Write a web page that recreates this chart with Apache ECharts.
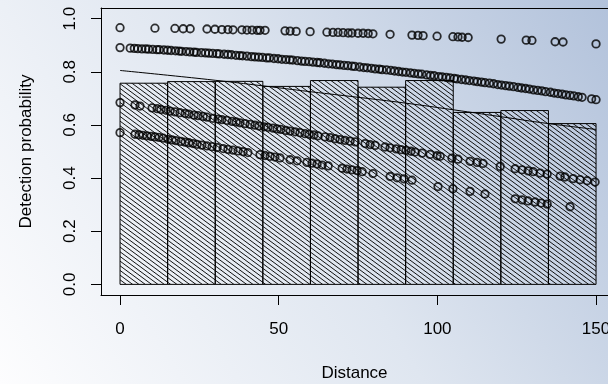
<!DOCTYPE html>
<html>
<head>
<meta charset="utf-8">
<script src="https://cdn.jsdelivr.net/npm/echarts@6/dist/echarts.min.js"></script>
<style>
    html, body {margin: 0; padding: 0;}
    #div_detect {width: 608px; height: 384px;}
</style>
</head>
<body>
<div id="div_detect"></div>
<script>
//直方图分组
var binStart = [0, 15, 30, 45, 60, 75, 90, 105, 120, 135];
var binEnd = [15, 30, 45, 60, 75, 90, 105, 120, 135, 150];
var binHeight = [0.757, 0.763, 0.764, 0.745, 0.767, 0.742, 0.767, 0.647, 0.654, 0.605];

//拟合的检测函数
var fitDistance = [0, 15, 30, 45, 60, 75, 90, 105, 120, 135, 150];
var fitProb = [0.805, 0.787, 0.768, 0.747, 0.725, 0.704, 0.682, 0.657, 0.631, 0.605, 0.583];

//每个观测的检测概率, 四组
var distA = [0, 11.0, 17.3, 19.9, 22.1, 27.4, 29.9, 32.1, 34.0, 35.6, 38.4, 40.0, 41.6, 43.2, 44.1, 45.7,
    52.0, 53.6, 55.5, 59.9, 65.2, 67.1, 68.7, 70.3, 71.9, 73.1, 75.0, 76.6, 78.2, 79.7, 85.1, 92.0,
    93.9, 95.5, 99.9, 104.9, 106.5, 107.8, 109.7, 120.1, 128.0, 129.8, 137.1, 139.6, 150];
var probA = [0.966, 0.964, 0.963, 0.962, 0.962, 0.961, 0.960, 0.959, 0.959, 0.958, 0.958, 0.957, 0.957, 0.956, 0.956, 0.956,
    0.954, 0.953, 0.952, 0.951, 0.949, 0.948, 0.948, 0.947, 0.946, 0.946, 0.945, 0.945, 0.944, 0.943, 0.941, 0.938,
    0.937, 0.936, 0.934, 0.932, 0.931, 0.930, 0.929, 0.923, 0.919, 0.918, 0.913, 0.912, 0.905];

var distB = [0, 3.2, 4.5, 5.6, 6.9, 8.1, 9.0, 10.3, 11.6, 12.4, 13.8, 15.0, 16.1, 17.5, 18.6, 19.4, 20.8, 22.0, 23.3, 24.1,
    25.6, 26.9, 28.0, 29.2, 30.5, 31.3, 32.8, 34.0, 35.1, 36.5, 37.7, 38.6, 40.0, 41.4, 42.5, 43.7, 44.9, 46.2, 47.1, 48.5,
    49.8, 51.0, 52.3, 53.5, 54.4, 55.9, 57.2, 58.3, 59.6, 60.8, 62.1, 63.0, 64.4, 65.7, 66.9, 68.2, 69.3, 70.6, 71.8, 73.1,
    74.0, 75.5, 76.8, 77.9, 79.2, 80.4, 81.7, 82.6, 84.0, 85.3, 86.5, 87.8, 89.0, 90.1, 91.5, 92.7, 94.0, 95.1, 96.6, 97.8,
    99.0, 100.4, 101.5, 102.8, 104.0, 105.3, 106.2, 107.6, 108.9, 110.1, 111.5, 112.6, 113.9, 115.0, 116.4, 117.7, 119.0, 120.2, 121.5, 122.7,
    124.0, 125.4, 126.5, 127.8, 129.0, 130.3, 131.6, 132.9, 134.1, 135.6, 136.8, 138.0, 139.3, 140.5, 141.8, 143.0, 144.4, 145.6, 148.6, 150.0];
var probB = [0.891, 0.889, 0.888, 0.887, 0.886, 0.886, 0.885, 0.884, 0.883, 0.883, 0.882, 0.881, 0.880, 0.879, 0.878, 0.877, 0.876, 0.875, 0.874, 0.873,
    0.872, 0.871, 0.870, 0.869, 0.868, 0.867, 0.866, 0.865, 0.864, 0.862, 0.861, 0.860, 0.859, 0.857, 0.856, 0.855, 0.854, 0.852, 0.852, 0.850,
    0.849, 0.847, 0.846, 0.845, 0.844, 0.842, 0.840, 0.839, 0.838, 0.836, 0.835, 0.834, 0.832, 0.830, 0.829, 0.827, 0.826, 0.824, 0.823, 0.821,
    0.820, 0.818, 0.816, 0.815, 0.813, 0.811, 0.810, 0.808, 0.807, 0.805, 0.803, 0.801, 0.799, 0.798, 0.796, 0.794, 0.792, 0.791, 0.788, 0.786,
    0.785, 0.782, 0.781, 0.779, 0.777, 0.775, 0.773, 0.771, 0.769, 0.767, 0.765, 0.763, 0.761, 0.759, 0.757, 0.755, 0.752, 0.750, 0.748, 0.746,
    0.744, 0.741, 0.739, 0.737, 0.735, 0.732, 0.730, 0.728, 0.725, 0.723, 0.720, 0.718, 0.716, 0.713, 0.711, 0.709, 0.706, 0.704, 0.698, 0.695];

var distC = [0, 4.7, 6.3, 10.1, 11.7, 12.9, 14.5, 15.8, 17.3, 18.9, 20.5, 21.7, 23.3, 24.6, 26.2, 27.4, 29.3, 30.9, 32.1, 33.7,
    35.3, 36.6, 37.8, 39.4, 41.0, 42.5, 43.8, 45.4, 46.6, 48.2, 49.5, 50.7, 52.3, 53.6, 55.2, 56.7, 58.3, 59.6, 61.1, 62.4,
    64.6, 66.2, 67.8, 69.3, 70.9, 72.5, 74.1, 77.2, 78.8, 80.4, 83.5, 85.1, 87.0, 88.6, 90.1, 91.7, 93.0, 95.2, 97.7, 99.9,
    100.9, 104.6, 106.5, 110.3, 112.5, 114.4, 119.8, 124.5, 126.7, 128.6, 130.2, 132.4, 134.6, 138.7, 140.2, 142.8, 145.0, 147.2, 149.7];
var probC = [0.684, 0.675, 0.671, 0.664, 0.661, 0.658, 0.655, 0.652, 0.649, 0.646, 0.643, 0.641, 0.637, 0.635, 0.632, 0.629, 0.625, 0.622, 0.620, 0.617,
    0.613, 0.611, 0.608, 0.605, 0.602, 0.599, 0.596, 0.593, 0.591, 0.588, 0.585, 0.583, 0.579, 0.577, 0.574, 0.571, 0.567, 0.565, 0.562, 0.559,
    0.555, 0.552, 0.548, 0.545, 0.542, 0.539, 0.536, 0.530, 0.526, 0.523, 0.517, 0.514, 0.510, 0.507, 0.504, 0.501, 0.498, 0.494, 0.489, 0.484,
    0.482, 0.475, 0.471, 0.463, 0.459, 0.455, 0.444, 0.435, 0.431, 0.427, 0.424, 0.419, 0.415, 0.407, 0.404, 0.398, 0.394, 0.390, 0.385];

var distD = [0, 4.7, 6.0, 7.2, 8.5, 9.8, 11.0, 12.3, 13.6, 15.1, 16.4, 17.6, 19.2, 20.5, 21.7, 23.0, 24.3, 25.8, 27.4, 29.0,
    30.6, 32.5, 34.0, 35.6, 37.2, 38.8, 40.3, 44.1, 45.7, 47.3, 48.8, 50.4, 53.6, 55.8, 58.9, 60.5, 62.1, 63.7, 65.6, 70.0,
    71.5, 73.1, 74.7, 76.3, 79.7, 85.1, 87.3, 89.5, 92.0, 100.2, 104.9, 110.3, 115.0, 124.5, 126.7, 128.6, 130.8, 132.7, 134.6, 141.8];
var probD = [0.571, 0.565, 0.563, 0.561, 0.559, 0.557, 0.555, 0.553, 0.550, 0.546, 0.544, 0.541, 0.538, 0.535, 0.533, 0.530, 0.527, 0.524, 0.521, 0.518,
    0.515, 0.511, 0.508, 0.505, 0.502, 0.499, 0.496, 0.488, 0.485, 0.482, 0.479, 0.476, 0.469, 0.465, 0.459, 0.456, 0.453, 0.449, 0.446, 0.437,
    0.434, 0.431, 0.428, 0.424, 0.417, 0.406, 0.401, 0.397, 0.392, 0.368, 0.360, 0.350, 0.340, 0.322, 0.318, 0.314, 0.310, 0.306, 0.302, 0.292];

//坐标轴刻度
var xTicks = [0, 50, 100, 150];
var yTicks = [0, 0.2, 0.4, 0.6, 0.8, 1.0];

var FONT = "'Liberation Sans', Arial, sans-serif";
//x轴范围 (右边框在画布外)
var X_MIN = -6, X_MAX = 153.77;
var Y_MIN = -0.04, Y_MAX = 1.04;

/**
 * 斜线填充图案
 */
function makeHatch() {
    var w = 19, h = 14, n = 3;
    var cv = document.createElement('canvas');
    cv.width = w;
    cv.height = h;
    var ctx = cv.getContext('2d');
    ctx.strokeStyle = '#111';
    ctx.lineWidth = 1;
    for (var k = -n; k <= 2 * n; k++) {
        var c = k * h / n;
        ctx.beginPath();
        ctx.moveTo(0, c);
        ctx.lineTo(w, c + h);
        ctx.stroke();
    }
    return cv;
}

function zipPairs(xs, ys) {
    var out = [];
    for (var i = 0; i < xs.length; i++) {
        out.push([xs[i], ys[i]]);
    }
    return out;
}

function scatterSeries(xs, ys) {
    return {
        type: 'scatter',
        data: zipPairs(xs, ys),
        symbol: 'circle',
        symbolSize: 7.5,
        itemStyle: {color: 'transparent', borderColor: '#000', borderWidth: 1.8},
        z: 5
    };
}

function showDetectChart() {
    var hatch = makeHatch();
    var binData = [];
    for (var i = 0; i < binStart.length; i++) {
        binData.push([binStart[i], binEnd[i], binHeight[i]]);
    }

    var option = {
        animation: false,
        backgroundColor: {
            type: 'linear', x: 0, y: 1, x2: 1, y2: 0,
            colorStops: [
                {offset: 0, color: '#fdfdfe'},
                {offset: 0.5, color: '#dfe6f0'},
                {offset: 1, color: '#b2c2db'}
            ]
        },
        grid: {
            left: 101,
            top: 8,
            right: 0,
            bottom: 89,
            outerBoundsMode: 'none',
            containLabel: false,
            show: false
        },
        xAxis: [
            {
                type: 'value',
                min: X_MIN,
                max: X_MAX,
                name: 'Distance',
                nameLocation: 'middle',
                nameGap: 70,
                nameTextStyle: {color: '#000', fontSize: 17, fontFamily: FONT},
                axisLine: {show: true, onZero: false, lineStyle: {color: '#000', width: 1}},
                splitLine: {show: false},
                axisTick: {show: true, length: 10, customValues: xTicks, lineStyle: {color: '#000'}},
                axisLabel: {
                    customValues: xTicks,
                    color: '#000',
                    fontSize: 17,
                    fontFamily: FONT,
                    margin: 26
                }
            },
            {
                //上边框
                type: 'value',
                position: 'top',
                min: X_MIN,
                max: X_MAX,
                axisLine: {show: true, onZero: false, lineStyle: {color: '#000', width: 1}},
                axisTick: {show: false},
                axisLabel: {show: false},
                splitLine: {show: false}
            }
        ],
        yAxis: {
            type: 'value',
            min: Y_MIN,
            max: Y_MAX,
            name: 'Detection probability',
            nameLocation: 'middle',
            nameRotate: 90,
            nameGap: 66,
            nameTextStyle: {color: '#000', fontSize: 17, fontFamily: FONT},
            axisLine: {show: true, onZero: false, lineStyle: {color: '#000', width: 1}},
            splitLine: {show: false},
            axisTick: {show: true, length: 10, customValues: yTicks, lineStyle: {color: '#000'}},
            axisLabel: {
                customValues: yTicks,
                rotate: 90,
                color: '#000',
                fontSize: 17,
                fontFamily: FONT,
                margin: 22,
                formatter: function (v) {
                    return v.toFixed(1);
                }
            }
        },
        series: [
            {
                type: 'custom',
                data: binData,
                encode: {x: [0, 1], y: 2},
                z: 2,
                renderItem: function (params, api) {
                    var p0 = api.coord([api.value(0), api.value(2)]);
                    var p1 = api.coord([api.value(1), 0]);
                    return {
                        type: 'rect',
                        shape: {x: p0[0], y: p0[1], width: p1[0] - p0[0], height: p1[1] - p0[1]},
                        style: {
                            fill: {image: hatch, repeat: 'repeat'},
                            stroke: '#000',
                            lineWidth: 1
                        }
                    };
                }
            },
            {
                type: 'line',
                data: zipPairs(fitDistance, fitProb),
                smooth: true,
                showSymbol: false,
                lineStyle: {color: '#000', width: 1},
                z: 4
            },
            scatterSeries(distA, probA),
            scatterSeries(distB, probB),
            scatterSeries(distC, probC),
            scatterSeries(distD, probD)
        ]
    };

    var dom_chart = echarts.init(document.getElementById('div_detect'));
    dom_chart.setOption(option);
}

showDetectChart();
</script>
</body>
</html>
